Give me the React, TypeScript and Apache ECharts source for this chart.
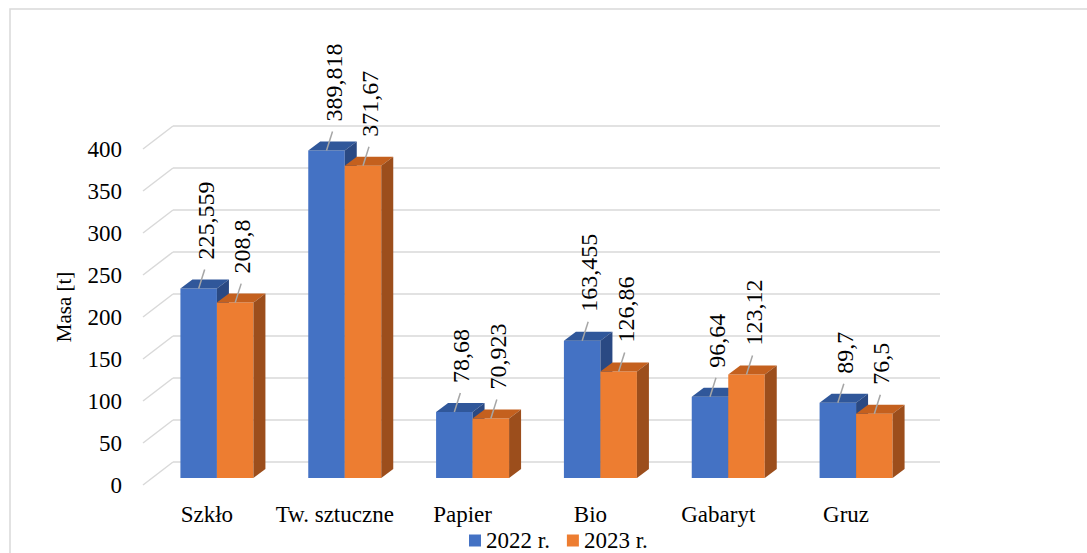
import { useEffect, useRef } from "react";
import * as echarts from "echarts";

const categories = ["Szkło", "Tw. sztuczne", "Papier", "Bio", "Gabaryt", "Gruz"];
const seriesNames = ["2022 r.", "2023 r."];
const values2022 = [225.559, 389.818, 78.68, 163.455, 96.64, 89.7];
const values2023 = [208.8, 371.67, 70.923, 126.86, 123.12, 76.5];
const yTicks = [0, 50, 100, 150, 200, 250, 300, 350, 400];
const yAxisTitle = "Masa [t]";

const FONT = "Liberation Serif";
const GRID_COLOR = "#d9d9d9";

// geometry (pixel styling)
const BACK = { left: 173, top: 126, width: 767, height: 336 };
const DEPTH_X = 30;
const DEPTH_Y = 23;
const FRONT_DX = -20;
const FRONT_DY = 16;
const BAR_W = 36.5;
const BAR_DX = 12;
const BAR_DY = -9;

const palettes = [
  { front: "#4472C4", top: "#30579A", side: "#2A4983" },
  { front: "#ED7D31", top: "#C4601E", side: "#9C4E1C" },
];

function fmt(v: number) {
  return String(v).replace(".", ",");
}

function makeBarSeries(name: string, values: number[], idx: number) {
  const pal = palettes[idx];
  return {
    type: "custom",
    name,
    xAxisIndex: 0,
    yAxisIndex: 0,
    itemStyle: { color: pal.front },
    data: values.map((v, i) => [i, v]),
    renderItem: (params: any, api: any) => {
      const i = api.value(0);
      const v = api.value(1);
      const pTop = api.coord([i, v]);
      const pBase = api.coord([i, 0]);
      const cx = pTop[0] + FRONT_DX;
      const x0 = idx === 0 ? cx - BAR_W : cx;
      const x1 = x0 + BAR_W;
      const top = pTop[1] + FRONT_DY;
      const base = pBase[1] + FRONT_DY;
      const bc = (x0 + x1) / 2;
      return {
        type: "group",
        children: [
          {
            type: "rect",
            shape: { x: x0, y: top, width: BAR_W, height: base - top },
            style: { fill: pal.front },
          },
          {
            type: "polygon",
            shape: {
              points: [
                [x0, top],
                [x1, top],
                [x1 + BAR_DX, top + BAR_DY],
                [x0 + BAR_DX, top + BAR_DY],
              ],
            },
            style: { fill: pal.top },
          },
          {
            type: "polygon",
            shape: {
              points: [
                [x1, top],
                [x1 + BAR_DX, top + BAR_DY],
                [x1 + BAR_DX, base + BAR_DY],
                [x1, base],
              ],
            },
            style: { fill: pal.side },
          },
          {
            type: "line",
            shape: { x1: bc, y1: top, x2: bc + 6, y2: top - 19 },
            style: { stroke: "#a6a6a6", lineWidth: 1.5 },
          },
          {
            type: "text",
            x: bc + 7,
            y: top - 29,
            rotation: Math.PI / 2,
            style: {
              text: fmt(v),
              fontSize: 24,
              fontFamily: FONT,
              fill: "#000",
              align: "left",
              verticalAlign: "middle",
            },
          },
        ],
      };
    },
  };
}

export default function App() {
  const ref = useRef<HTMLDivElement>(null);
  useEffect(() => {
    if (!ref.current) return;
    const chart = echarts.init(ref.current, undefined, { renderer: "svg" });
    const option: any = {
      animation: false,
      backgroundColor: "#fff",
      textStyle: { fontFamily: FONT },
      graphic: [
        {
          type: "rect",
          shape: { x: 10, y: 9, width: 1200, height: 700 },
          style: { fill: "none", stroke: GRID_COLOR, lineWidth: 1.5 },
          silent: true,
        },
        {
          type: "text",
          x: 64,
          y: 307,
          rotation: Math.PI / 2,
          style: {
            text: yAxisTitle,
            fontSize: 21,
            fontFamily: FONT,
            fill: "#000",
            align: "center",
            verticalAlign: "middle",
          },
        },
      ],
      grid: [
        { left: BACK.left, top: BACK.top, width: BACK.width, height: BACK.height },
        {
          left: BACK.left - DEPTH_X,
          top: BACK.top + DEPTH_Y,
          width: BACK.width,
          height: BACK.height,
        },
      ],
      xAxis: [
        {
          type: "category",
          gridIndex: 0,
          data: categories,
          show: false,
        },
        {
          type: "category",
          gridIndex: 1,
          data: categories,
          axisLine: { show: false },
          axisTick: { show: false },
          axisLabel: {
            interval: 0,
            fontSize: 23,
            fontFamily: FONT,
            color: "#000",
            margin: 18,
          },
        },
      ],
      yAxis: [
        {
          type: "value",
          gridIndex: 0,
          min: yTicks[0],
          max: yTicks[yTicks.length - 1],
          interval: 50,
          axisLine: { show: false },
          axisTick: { show: false },
          axisLabel: { show: false },
          splitLine: { show: true, lineStyle: { color: GRID_COLOR, width: 1.5 } },
        },
        {
          type: "value",
          gridIndex: 1,
          min: yTicks[0],
          max: yTicks[yTicks.length - 1],
          interval: 50,
          axisLine: { show: false },
          axisTick: { show: false },
          splitLine: { show: false },
          axisLabel: { fontSize: 23, fontFamily: FONT, color: "#000", margin: 21 },
        },
      ],
      legend: {
        data: seriesNames.map((n) => ({ name: n, icon: "rect" })),
        left: 469,
        top: 529,
        padding: 0,
        itemWidth: 12,
        itemHeight: 12,
        itemGap: 17,
        textStyle: { fontSize: 23, fontFamily: FONT, color: "#000" },
      },
      series: [
        {
          type: "custom",
          name: "grid-depth",
          xAxisIndex: 0,
          yAxisIndex: 0,
          silent: true,
          data: yTicks.map((v) => [0, v]),
          renderItem: (params: any, api: any) => {
            const y = api.coord([0, api.value(1)])[1];
            const x = params.coordSys.x;
            return {
              type: "line",
              shape: { x1: x, y1: y, x2: x - DEPTH_X, y2: y + DEPTH_Y },
              style: { stroke: GRID_COLOR, lineWidth: 1.5 },
            };
          },
        },
        makeBarSeries(seriesNames[0], values2022, 0),
        makeBarSeries(seriesNames[1], values2023, 1),
      ],
    };
    chart.setOption(option);
    return () => chart.dispose();
  }, []);
  return (
    <div
      ref={ref}
      style={{ position: "absolute", left: 0, top: 0, width: 1087, height: 553 }}
    />
  );
}
